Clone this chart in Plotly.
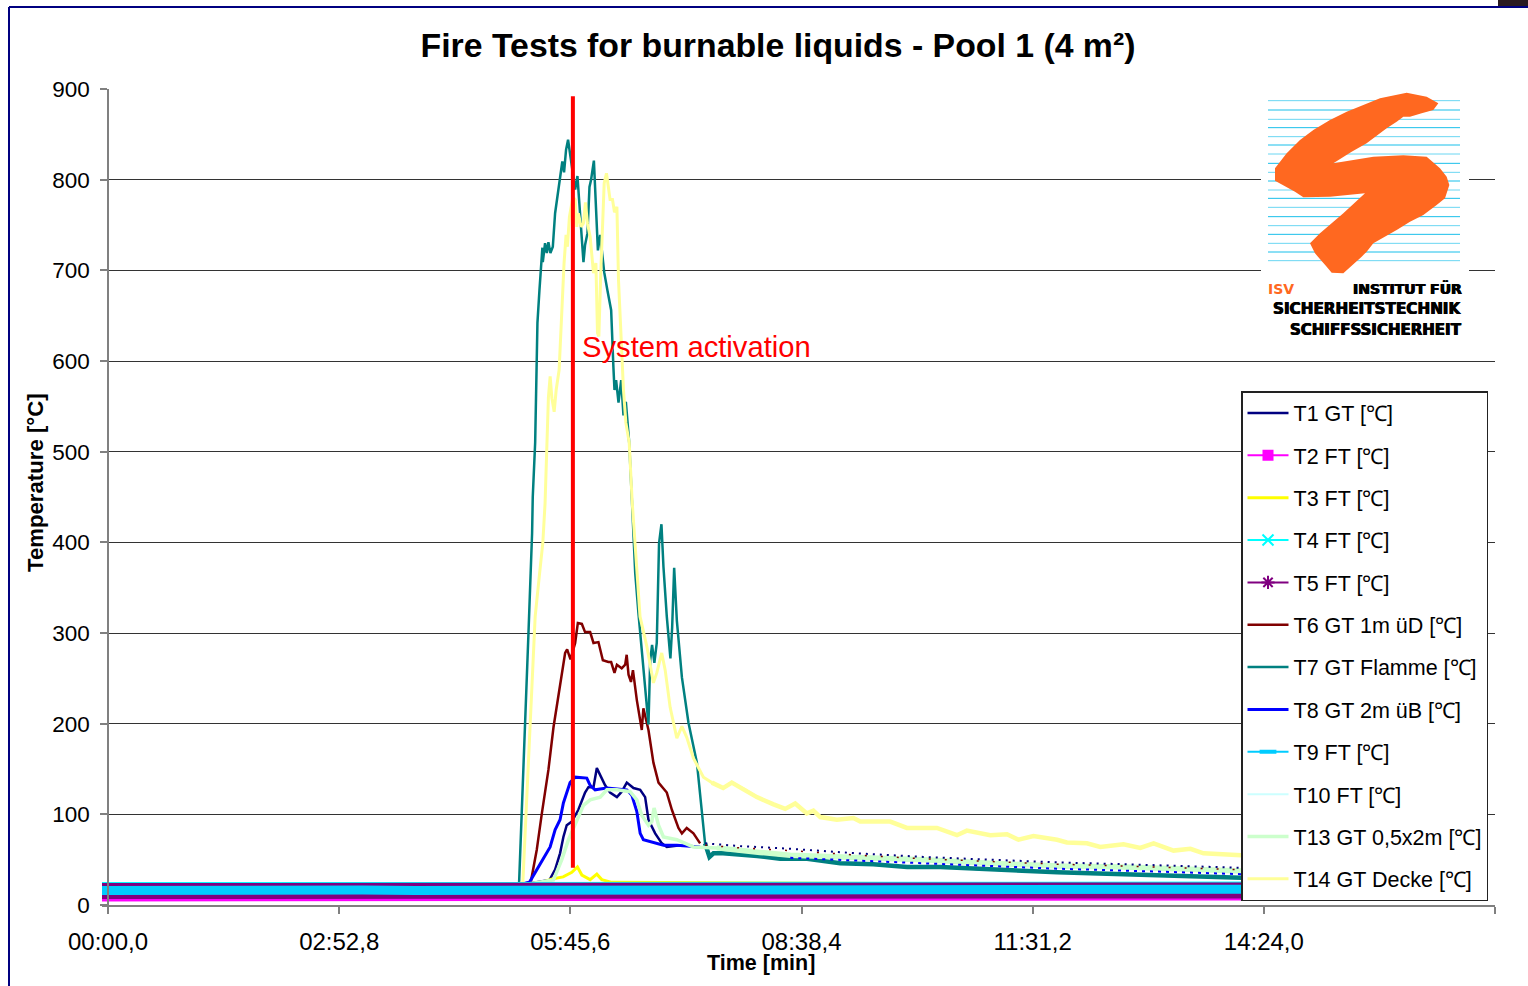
import plotly.graph_objects as go

# ---------- data (time in seconds, temperature in deg C) ----------
TICK_SECONDS = [0, 172.8, 345.6, 518.4, 691.2, 864.0, 1036.8]
TICK_LABELS = ["00:00,0", "02:52,8", "05:45,6", "08:38,4", "11:31,2", "14:24,0", "17:16,8"]
Y_TICKS = [0, 100, 200, 300, 400, 500, 600, 700, 800, 900]

T1_T = [-4.5, 300, 330, 334.2, 337.9, 340.4, 342.9, 346.7, 351.6, 356.6, 359.1, 362.9, 365.4, 367.9, 371.6, 375.3,
        380.4, 384, 387.8, 392.8, 397.8, 401.5, 404, 409, 414, 417.7, 427.7,
        446.4, 472.5, 510, 560, 609.4, 659.5, 709.6, 758.9, 816.5, 847]
T1_V = [20, 20, 27.6, 39, 57, 75, 88, 92, 105, 124, 130, 130, 151, 143, 132, 124,
        119, 125, 135, 129, 127, 119, 94, 79, 68, 64, 66,
        68, 65, 62, 57, 53, 50, 47, 45, 42, 41]

T3_T = [-4.5, 300, 324.3, 332.7, 340.2, 346.7, 350.9, 354.2, 360.4, 365.4, 369.1, 376.6, 847]
T3_V = [20, 20, 25, 29, 31, 36, 42, 33, 28, 34, 28, 25, 22]

T6_T = [-4.5, 300, 316, 320.5, 324.3, 329.2, 333, 337.4, 339.2, 341.7, 343.2, 345.7, 349.2, 351.2, 354.2, 356.6,
        360.4, 362.9, 366.6, 369.9, 374.1, 376.1, 378.6, 380.4, 384, 386.6, 387.7, 389.1, 390.9, 392.4, 395.3,
        399, 400.2, 404, 407.7, 411.5, 417.7, 421.5, 426.4, 429, 432.6, 437.6, 442.6,
        446.4, 472.5, 510, 560, 609.4, 659.5, 709.6, 758.9, 816.5, 847]
T6_V = [20, 20, 25, 61, 101, 149, 196, 237, 256, 278, 282, 271, 289, 311, 310, 301,
        301, 289, 290, 270, 268, 268, 256, 265, 261, 265, 276, 254, 246, 259, 226,
        193, 217, 193, 157, 135, 124, 105, 85, 79, 85, 79, 68,
        66, 63, 60, 55, 51, 48, 45, 43, 40, 39]

T7_T = [-4.5, 300, 307.3, 311.8, 314.3, 317, 317.5, 319.3, 321, 322.5, 323.5, 324.7, 325, 326.7, 328, 329.2, 330.7,
        332.5, 334.2, 335.9, 337.9, 339.6, 340.9, 342.4, 343.9, 345.4, 347.5, 349.2, 350.9, 352.2, 353.4, 355.4,
        356.6, 358.4, 359.9, 361.1, 363.2, 364.7, 366.2, 367.9, 369.6, 370.9, 373.3, 376.1, 377.8, 378.6, 379.8,
        381.6, 383.6, 385.3, 387.1, 389.6, 391.6, 394.1, 396.5, 400.3, 404, 405.3, 406.7, 408.4, 410.2, 411.9,
        413.7, 415.2, 417.7, 420.4, 421.7, 423.2, 425.2, 429, 433.9, 440.2, 443.9, 446.3, 449.6, 452.6, 459.8,
        485.3, 502.4, 522.6, 547.3, 572, 597.4, 622.1, 646.8, 684.1, 709.6, 734.2, 758.9, 784.3, 818.7, 847.1]
T7_V = [20, 20, 25, 190, 300, 410, 450, 510, 642, 678, 704, 725, 709, 730, 719, 731, 719,
        726, 763, 781, 803, 820, 808, 833, 844, 829, 807, 789, 804, 774, 744, 709,
        728, 741, 792, 800, 821, 774, 722, 739, 711, 698, 678, 656, 593, 568, 579,
        554, 579, 540, 555, 510, 447, 366, 322, 262, 199, 270, 287, 267, 289, 399,
        420, 373, 318, 272, 306, 372, 314, 251, 201, 157, 105, 68, 53, 57, 57,
        54, 51, 51, 46, 45, 42, 42, 40, 37.5, 36, 35, 34, 33, 31, 30]

T8_T = [-4.5, 300, 315, 320.5, 325.4, 330.5, 334.2, 337.9, 340.4, 342.9, 345.4, 349.2, 354.2, 357.9, 360.4, 364.1,
        367.9, 372.9, 387.8, 391.6, 395.3, 397.8, 400.2, 407.7, 415.2, 425.2, 442.6, 510, 560, 609.4, 659.5,
        709.6, 758.9, 816.5, 847]
T8_V = [20, 20, 25, 39, 50, 64, 83, 94, 112.5, 124, 135, 141, 140, 140, 132, 127,
        128, 129, 127, 121, 103, 79, 72, 69, 66, 66, 64, 52, 49, 46, 43, 40, 38, 35, 34]

T13_T = [-4.5, 300, 333, 339.2, 344.2, 349.2, 355.4, 360.4, 367.9, 372.9, 380.4, 390.3, 395.3, 399, 404, 406.5, 408.2,
         411.5, 415.2, 425.2, 437.6, 455.1, 472.5, 487.5, 510, 560, 609.4, 659.5, 709.6, 758.9, 816.5, 847]
T13_V = [20, 20, 27.6, 50, 72, 88, 110, 116, 119, 127, 127, 125, 116, 99, 88, 92, 107,
         88, 75, 72, 64, 63, 61, 58, 55, 53, 50, 46, 43, 42, 39, 37.5]

T14_T = [-4.5, 300, 310.1, 314.3, 318, 319.3, 322.5, 325, 326.7, 328, 329.2, 330.5, 331.8, 333.5, 335, 337.2, 339.2,
         340.9, 342.4, 343.4, 344.9, 347.5, 349.2, 350.4, 351.6, 353.6, 355.4, 356.9, 358.4, 360.4, 362.9, 364.7,
         365.9, 366.9, 368.4, 369.6, 370.9, 372.6, 374.1, 375.3, 377.1, 378.6, 380.4, 381.6, 383.3, 385.3, 387.1,
         389.6, 391.8, 397.7, 402.8, 407.7, 410.2, 413.9, 416.5, 420.2, 425.2, 429, 432.6, 437.6, 445.1, 451.4,
         459.8, 466.3, 476.3, 485, 497.5, 506.2, 513.7, 522.4, 527.3, 532.4, 544.8, 557.2, 562.3, 584.7, 597.2,
         619.6, 634.6, 642, 659.5, 672, 680.6, 691.8, 709.4, 716.8, 731.7, 741.7, 759.1, 771.6, 781.6, 796.5,
         809.1, 818.9, 847.1]
T14_V = [20, 20, 25, 152, 262, 318, 364, 399, 443, 513, 560, 583, 559, 544, 568, 590, 660,
         708, 739, 726, 759, 781, 778, 748, 763, 748, 752, 775, 752, 737, 697, 708,
         631, 627, 700, 752, 796, 807, 789, 778, 778, 764, 770, 689, 634, 568, 532,
         510, 445, 318, 285, 245, 256, 278, 259, 218, 184, 197, 185, 162, 141, 135,
         129, 135, 127, 119, 111, 106, 112, 101, 104, 97, 94, 96, 92, 92, 85,
         85, 77, 82, 77, 78, 72, 76, 72, 69, 68, 64, 67, 63, 68, 60,
         62, 57, 55]

BAND_T = [-4.5, 30, 70, 110, 150, 190, 230, 270, 310, 350, 390, 430, 470, 510, 550, 590, 630, 670, 710, 750, 790, 847]
T2_V = [10, 10, 9.5, 10, 9, 10, 10, 9.5, 10, 10, 10, 10, 9.5, 10, 10, 10, 9.5, 10, 10.5, 10.5, 10.5, 11]
T4_V = [16.5, 16.5, 17, 16.5, 16.5, 17, 16.5, 16.5, 16.5, 17, 16.5, 16.5, 17, 16.5, 17, 17, 16.5, 17, 17, 17, 17, 17]
T5_V = [15.5, 15.5, 15.5, 15, 15.5, 15.5, 15.5, 15.5, 15, 15.5, 15.5, 15.5, 15.5, 15.5, 15.5, 15.5, 15.5, 15.5,
        16, 16, 16, 16]
T9_V = [16, 16.5, 16, 16.5, 16, 16.5, 16, 16, 16, 16.5, 16, 16, 16.5, 16, 16.5, 16, 16.5, 16.5, 16.5, 17, 17.5, 17.5]
T10_V = [18, 18, 18, 18, 18, 18, 18, 18, 18, 18, 18, 18, 18, 18, 18, 18, 18, 18, 18, 18, 18, 18]

ACTIVATION_T = [347.5, 347.5]
ACTIVATION_V = [41, 892]

# ---------- layout constants ----------
L, R, T, B = 102, 1495, 89, 905
FONT = "Liberation Sans"
TAIL_START = 446


def pax(px):
    return (px - L) / (R - L)


def pay(py):
    return (B - py) / (B - T)


def line(name, x, y, color, width, showlegend=True, dash=None):
    return go.Scatter(x=x, y=y, name=name, legendgroup=name, mode="lines", showlegend=showlegend,
                      line=dict(color=color, width=width, dash=dash), hoverinfo="name")


def tail(name, x, y, color, width, dash=None):
    """The slow cooling part of a series, drawn heavier as in the reference."""
    pts = [(a, b) for a, b in zip(x, y) if a >= TAIL_START]
    return line(name, [p[0] for p in pts], [p[1] for p in pts], color, width, showlegend=False, dash=dash)


def proxy(name, color, symbol, size, **mk):
    return go.Scatter(x=[None], y=[None], name=name, legendgroup=name, mode="lines+markers",
                      line=dict(color=color, width=2), hoverinfo="skip",
                      marker=dict(symbol=symbol, size=size, color=color, **mk))


N = {k: f"{k} {v} [℃]" for k, v in {"T1": "GT", "T2": "FT", "T3": "FT", "T4": "FT", "T5": "FT", "T6": "GT 1m üD",
                                     "T7": "GT Flamme", "T8": "GT 2m üB", "T9": "FT", "T10": "FT",
                                     "T13": "GT 0,5x2m", "T14": "GT Decke"}.items()}
traces = [
    line(N["T1"], [a for a in T1_T if a < TAIL_START], T1_V[:len([a for a in T1_T if a < TAIL_START])], "#000080", 2.5),
    proxy(N["T2"], "#FF00FF", "square", 11),
    line(N["T3"], T3_T, T3_V, "#FFFF00", 3),
    proxy(N["T4"], "#00FFFF", "x-thin", 11, line=dict(color="#00FFFF", width=2)),
    proxy(N["T5"], "#800080", "asterisk", 11, line=dict(color="#800080", width=2)),
    line(N["T6"], [a for a in T6_T if a < TAIL_START], T6_V[:len([a for a in T6_T if a < TAIL_START])], "#800000", 2.5),
    line(N["T7"], T7_T, T7_V, "#008080", 2.5),
    line(N["T8"], [a for a in T8_T if a < TAIL_START], T8_V[:len([a for a in T8_T if a < TAIL_START])], "#0000FF", 3),
    proxy(N["T9"], "#00CCFF", "line-ew", 12, line=dict(color="#00CCFF", width=4)),
    line(N["T10"], BAND_T, T10_V, "#CCFFFF", 2),
    tail(N["T7"], T7_T, T7_V, "#008080", 4.5),
    line(N["T13"], T13_T, T13_V, "#CCFFCC", 3.5),
    tail(N["T13"], T13_T, T13_V, "#CCFFCC", 5.5),
    tail(N["T1"], T1_T, T1_V, "#000080", 2, dash="2px,5px"),
    tail(N["T6"], T6_T, T6_V, "#800000", 1.5, dash="2px,14px"),
    tail(N["T8"], T8_T, T8_V, "#0000FF", 2, dash="3px,5px"),
    line(N["T14"], T14_T, T14_V, "#FFFF99", 3),
    tail(N["T14"], T14_T, T14_V, "#FFFF99", 4.5),
    line(N["T4"], BAND_T, T4_V, "#00FFFF", 16, showlegend=False),
    line(N["T2"], BAND_T, T2_V, "#FF00FF", 11, showlegend=False),
    line(N["T5"], BAND_T, T5_V, "#800080", 16, showlegend=False),
    line(N["T9"], BAND_T, T9_V, "#00CCFF", 9, showlegend=False),
    go.Scatter(x=ACTIVATION_T, y=ACTIVATION_V, mode="lines", line=dict(color="#FF0000", width=4),
               showlegend=False, hoverinfo="skip", name="System activation"),
]

fig = go.Figure(traces)

# ---------- frame and logo (decoration, positioned in page pixels) ----------
shapes = [
    dict(type="line", xref="paper", yref="paper", x0=pax(9), x1=pax(9), y0=pay(7), y1=pay(990),
         line=dict(color="#000080", width=2)),
    dict(type="line", xref="paper", yref="paper", x0=pax(9), x1=pax(1530), y0=pay(7), y1=pay(7),
         line=dict(color="#000080", width=2)),
    dict(type="rect", xref="paper", yref="paper", x0=pax(1498), x1=pax(1530), y0=pay(-2), y1=pay(6),
         fillcolor="#2A1A20", line=dict(width=0)),
    dict(type="rect", xref="paper", yref="paper", x0=pax(1261), x1=pax(1469), y0=pay(86), y1=pay(352),
         fillcolor="white", line=dict(width=0)),
]
for i, z in enumerate([62, 90, 118, 143, 170, 195, 222, 250, 277, 303, 330, 355, 382, 410, 437, 463, 490, 516, 542]):
    py = 80 + z / 3
    shapes.append(dict(type="line", xref="paper", yref="paper", x0=pax(1268), x1=pax(1460), y0=pay(py), y1=pay(py),
                       line=dict(color="#19BFEA" if i % 2 else "#6AD6F2", width=1)))
S_OUTLINE = [(625, 70), (610, 90), (575, 100), (540, 110), (520, 110), (500, 125), (470, 145), (410, 190), (365, 215),
             (310, 250), (370, 240), (430, 230), (520, 226), (590, 230), (630, 265), (650, 290), (658, 315), (645, 355),
             (620, 375), (580, 405), (540, 425), (500, 450), (430, 490), (410, 515), (395, 530), (340, 580), (305, 578),
             (290, 560), (255, 520), (240, 490), (270, 460), (340, 400), (405, 340), (300, 350), (220, 352), (195, 335),
             (135, 302), (135, 265), (170, 220), (210, 180), (250, 150), (300, 120), (350, 95), (400, 75), (450, 55),
             (530, 38), (590, 50)]
path = "M " + " L ".join(f"{pax(1230 + a / 3):.5f} {pay(80 + b / 3):.5f}" for a, b in S_OUTLINE) + " Z"
shapes.append(dict(type="path", xref="paper", yref="paper", path=path, fillcolor="#FF6820", line=dict(width=0)))


def note(text, px, py, size, color="black", xanchor="center", bold=False, angle=0, family=FONT, shadow=None):
    font = dict(size=size, color=color, family=family)
    if shadow:
        font["shadow"] = shadow
    return dict(text=f"<b>{text}</b>" if bold else text, x=pax(px), y=pay(py), xref="paper", yref="paper",
                xanchor=xanchor, yanchor="middle", showarrow=False, textangle=angle, font=font)


HEAVY = "0.5px 0 0 black, -0.5px 0 0 black"
annotations = [
    dict(text="System activation", x=352.5, y=615, xanchor="left", yanchor="middle", showarrow=False,
         font=dict(size=29.2, color="#FF0000", family=FONT)),
    note("Temperature [°C]", 36, 483, 22.2, bold=True, angle=-90),
    note("Time [min]", 761, 963, 21.5, bold=True),
    note("ISV", 1266, 289, 14, color="#FF6820", xanchor="left", bold=True, family="DejaVu Sans"),
    note("INSTITUT FÜR", 1464, 288, 14, xanchor="right", bold=True, family="DejaVu Sans", shadow=HEAVY),
    note("SICHERHEITSTECHNIK", 1464, 309, 15.2, xanchor="right", bold=True, family="DejaVu Sans", shadow=HEAVY),
    note("SCHIFFSSICHERHEIT", 1464, 330, 15, xanchor="right", bold=True, family="DejaVu Sans", shadow=HEAVY),
]

fig.update_layout(
    width=1528, height=986, autosize=False,
    margin=dict(l=L, r=1528 - R, t=T, b=986 - B, pad=0),
    paper_bgcolor="white", plot_bgcolor="white",
    font=dict(family=FONT, color="black", size=23),
    title=dict(text="<b>Fire Tests for burnable liquids - Pool 1 (4 m²)</b>", x=778 / 1528, xanchor="center",
               y=1 - 45 / 986, yanchor="middle", font=dict(size=33.8, family=FONT, color="black")),
    xaxis=dict(range=[-4.5, 1036.8], tickmode="array", tickvals=TICK_SECONDS, ticktext=TICK_LABELS,
               ticks="outside", ticklen=7, tickcolor="#808080", tickwidth=1.5, showgrid=False, zeroline=False,
               showline=True, linecolor="#808080", linewidth=1.5, ticklabelstandoff=7,
               tickfont=dict(size=24, family=FONT)),
    yaxis=dict(range=[0, 900], tickmode="array", tickvals=Y_TICKS, ticks="outside", ticklen=7, tickcolor="#808080",
               tickwidth=1.5, showgrid=True, gridcolor="#333333", gridwidth=1, zeroline=False, showline=True,
               linecolor="#808080", linewidth=1.5, ticklabelstandoff=6, tickfont=dict(size=22.5, family=FONT),
               anchor="free", position=(108 - L) / (R - L)),
    legend=dict(x=pax(1241), y=pay(391), xanchor="left", yanchor="top", bgcolor="white", bordercolor="#222222",
                borderwidth=1.5, font=dict(size=21.5, family=FONT), itemwidth=41, tracegroupgap=11.4,
                traceorder="grouped", itemsizing="trace", entrywidth=190, entrywidthmode="pixels"),
    shapes=shapes, annotations=annotations, showlegend=True,
)

fig.write_html("out.html", config={"displayModeBar": False},
               post_script="document.body.style.margin='0';document.body.style.overflow='hidden';")
